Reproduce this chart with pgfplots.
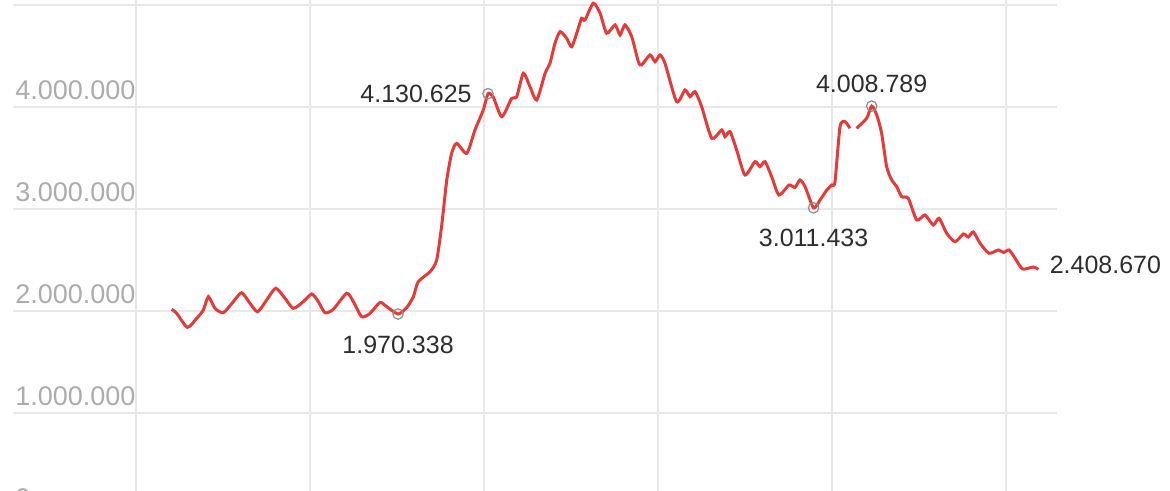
\documentclass[border=0pt]{standalone}
\usepackage{pgfplots}
\pgfplotsset{compat=1.18}
\usepackage{fontspec}
\setmainfont{Liberation Sans}
\definecolor{linered}{RGB}{228,58,58}
\definecolor{gridgray}{RGB}{232,232,232}
\definecolor{ticktext}{RGB}{172,172,172}
\definecolor{annot}{RGB}{45,45,45}
\definecolor{markgray}{RGB}{140,140,140}

\begin{document}
\begin{tikzpicture}
% crop the picture as in the reference (bottom of chart is cut off)
\path[use as bounding box, clip] (-6.5pt,12pt) rectangle (578.5pt,257.5pt);
\begin{axis}[
  scale only axis,
  width=522pt, height=257.55pt,
  xmin=-0.707, xmax=5.293,
  ymin=0, ymax=5050000,
  xtick={0,1,2,3,4,5},
  xticklabels={},
  ytick={0,1000000,2000000,3000000,4000000},
  extra y ticks={5000000},
  extra y tick labels={},
  extra tick style={grid=major},
  scaled y ticks=false,
  /pgf/number format/.cd, fixed, 1000 sep={.}, assume math mode=true,
  /pgfplots/.cd,
  yticklabel style={anchor=south west, inner sep=0pt, xshift=1pt, yshift=3.5pt,
    font=\fontsize{13.5}{14}\selectfont, text=ticktext},
  major tick length=0pt,
  axis line style={draw=none},
  grid=major,
  grid style={color=gridgray, line width=0.75pt},
  clip=false,
]
\addplot[linered, line width=1.5pt, smooth, tension=0.4] coordinates {
  (0.205,2017000) (0.234,1977000) (0.295,1840000) (0.349,1928000)
  (0.387,2010000) (0.416,2140000) (0.454,2026000) (0.502,1983000)
  (0.559,2091000) (0.607,2179000) (0.655,2075000) (0.699,1993000)
  (0.751,2108000) (0.803,2223000) (0.856,2125000) (0.904,2026000)
  (0.961,2091000) (1.010,2167000) (1.048,2091000) (1.086,1983000)
  (1.134,2017000) (1.211,2174000) (1.249,2091000) (1.297,1944000)
  (1.345,1977000) (1.402,2083000) (1.441,2042000) (1.506,1970338)
  (1.556,2034000) (1.594,2140000) (1.622,2287000) (1.690,2385000)
  (1.728,2500000) (1.757,2843000) (1.786,3284000) (1.814,3546000)
  (1.843,3644000) (1.901,3546000) (1.948,3775000) (1.996,3971000)
  (2.023,4130625) (2.053,4098000) (2.102,3905000) (2.159,4085000)
  (2.188,4101000) (2.226,4330000) (2.264,4199000) (2.303,4069000)
  (2.351,4330000) (2.379,4428000) (2.408,4625000) (2.437,4738000)
  (2.475,4673000) (2.504,4591000) (2.542,4772000) (2.561,4870000)
  (2.580,4853000) (2.628,5017000) (2.667,4919000) (2.705,4723000)
  (2.753,4804000) (2.782,4706000) (2.810,4804000) (2.849,4689000)
  (2.887,4444000) (2.906,4412000) (2.954,4510000) (2.983,4444000)
  (3.011,4510000) (3.040,4428000) (3.107,4052000) (3.155,4167000)
  (3.184,4101000) (3.213,4150000) (3.251,4003000) (3.309,3693000)
  (3.366,3775000) (3.385,3709000) (3.414,3758000) (3.452,3578000)
  (3.500,3333000) (3.557,3464000) (3.586,3415000) (3.615,3464000)
  (3.653,3317000) (3.695,3137000) (3.753,3235000) (3.787,3211000)
  (3.816,3284000) (3.845,3219000) (3.894,3011433) (3.931,3088000)
  (3.970,3186000) (3.998,3235000) (4.017,3268000) (4.046,3807000)
  (4.075,3856000) (4.103,3791000)
};
\addplot[linered, line width=1.5pt, smooth, tension=0.4] coordinates {
  (4.141,3791000) (4.199,3889000) (4.228,4008789) (4.257,3922000)
  (4.285,3742000) (4.314,3415000) (4.343,3284000) (4.372,3219000)
  (4.400,3121000) (4.438,3105000) (4.487,2892000) (4.534,2941000)
  (4.582,2843000) (4.615,2909000) (4.659,2762000) (4.707,2679000)
  (4.755,2755000) (4.783,2725000) (4.812,2775000) (4.851,2664000)
  (4.902,2566000) (4.956,2598000) (4.986,2574000) (5.017,2598000)
  (5.052,2517000) (5.095,2412000) (5.157,2431000) (5.186,2408670)
};
% highlighted points
\addplot[only marks, mark=o, mark size=2.6pt,
  mark options={draw=markgray, fill=white, fill opacity=0.4, line width=0.6pt}]
  coordinates {(1.506,1970338) (2.023,4130625) (3.894,3011433) (4.228,4008789)};

\begin{scope}[font=\fontsize{12.5}{13}\selectfont, text=annot, inner sep=0pt]
\node[anchor=east, xshift=-8pt] at (axis cs:2.023,4130625) {4.130.625};
\node[anchor=north, yshift=-11pt] at (axis cs:1.506,1970338) {1.970.338};
\node[anchor=north, yshift=-10.5pt] at (axis cs:3.894,3011433) {3.011.433};
\node[anchor=south, yshift=6.5pt] at (axis cs:4.228,4008789) {4.008.789};
\node[anchor=west, xshift=5.5pt, yshift=2pt] at (axis cs:5.186,2408670) {2.408.670};
\end{scope}
\end{axis}
\end{tikzpicture}
\end{document}
